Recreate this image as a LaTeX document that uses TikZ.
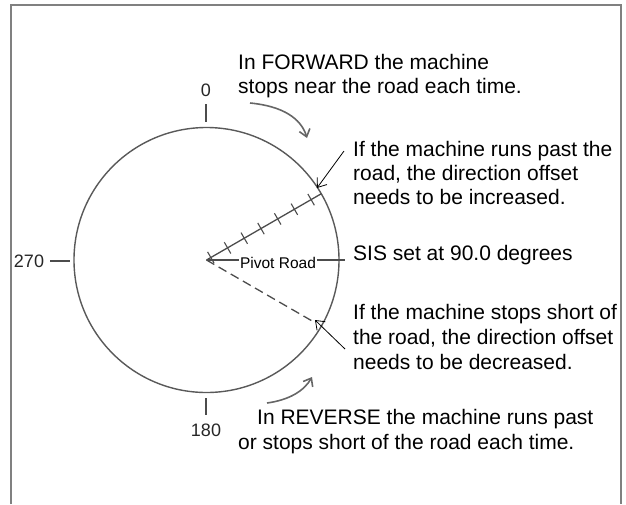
\documentclass[tikz,border=0pt]{standalone}
\usepackage{fontspec}
\setmainfont{Liberation Sans}
\usetikzlibrary{arrows.meta,calc}
\begin{document}
\begin{tikzpicture}[x=1pt,y=-1pt,
  txt/.style={anchor=base west,inner sep=0pt,font=\fontsize{21}{24}\selectfont,text=black},
  num/.style={inner sep=0pt,font=\fontsize{18}{19}\selectfont,text=black!85},
  ring/.style={draw=black!65,line width=1.4pt},
  tickl/.style={draw=black!70,line width=1.3pt},
  callout/.style={draw=black,line width=0.8pt,-{Straight Barb[length=8pt,width=12pt]}},
  turn/.style={draw=black!60,line width=1.6pt,-{Straight Barb[length=7pt,width=11pt]}}]
\useasboundingbox (0,0) rectangle (626,504);
% frame
\draw[black!50,line width=2pt] (11,504) -- (11,5) -- (621,5) -- (621,504);
% circle
\coordinate (c) at (206.5,260);
\draw[ring] (c) circle[radius=132.5];
% compass labels
\node[num] (n0) at (206,90) {0};
\node[num] (n180) at (206,430) {180};
\node[num] (n270) at (29,261) {270};
\coordinate (t0a) at (206,104); \coordinate (t0b) at (206,122);
\coordinate (t180a) at (206,398); \coordinate (t180b) at (206,415);
\coordinate (t270a) at (50,261); \coordinate (t270b) at (70,261);
\draw[tickl] (t0a) -- (t0b);
\draw[tickl] (t180a) -- (t180b);
\draw[tickl] (t270a) -- (t270b);
% pivot road line
\coordinate (pr) at (345,260);
\draw[tickl] (c) -- (pr);
\node[fill=white,inner sep=1pt,font=\fontsize{15.5}{17}\selectfont] (pivot) at (278,262.5) {Pivot Road};
% ticked line, 30 degrees above the road
\coordinate (up) at ($(c)+(-30:132.5)$);
\draw[tickl] (c) -- (up);
\foreach \d in {5,24.3,43.6,62.9,82.2,101.5,120.8}
  \draw[tickl,line width=1.1pt] ($(c)+(-30:\d)+(60:6.5)$) -- ($(c)+(-30:\d)+(-120:6.5)$);
% dashed line, 30 degrees below the road
\coordinate (dn) at ($(c)+(30:122)$);
\draw[tickl,dash pattern=on 9pt off 5pt] (c) -- (dn);
% callout arrows
\coordinate (a1s) at (344,151); \coordinate (a1e) at (317,188);
\coordinate (a2s) at (345,349); \coordinate (a2e) at (315,320);
\draw[callout] (a1s) -- (a1e);
\draw[callout] (a2s) -- (a2e);
% turning arrows
\coordinate (f1) at (250,103); \coordinate (f2) at (307,138);
\draw[turn] (f1) .. controls (282,106) and (301,118) .. (f2);
\coordinate (r1) at (267,403); \coordinate (r2) at (312,377);
\draw[turn] (r1) .. controls (289,400) and (304,391) .. (r2);
% texts
\node[txt] (fw1) at (238,69) {In FORWARD the machine};
\node[txt] (fw2) at (238,93) {stops near the road each time.};
\node[txt] (in1) at (353,156) {If the machine runs past the};
\node[txt] (in2) at (353,180) {road, the direction offset};
\node[txt] (in3) at (353,204) {needs to be increased.};
\node[txt] (sis) at (353,260) {SIS set at 90.0 degrees};
\node[txt] (de1) at (353,319) {If the machine stops short of};
\node[txt] (de2) at (353,344) {the road, the direction offset};
\node[txt] (de3) at (353,369) {needs to be decreased.};
\node[txt] (rv1) at (257,424) {In REVERSE the machine runs past};
\node[txt] (rv2) at (238,449) {or stops short of the road each time.};
\end{tikzpicture}
\end{document}
